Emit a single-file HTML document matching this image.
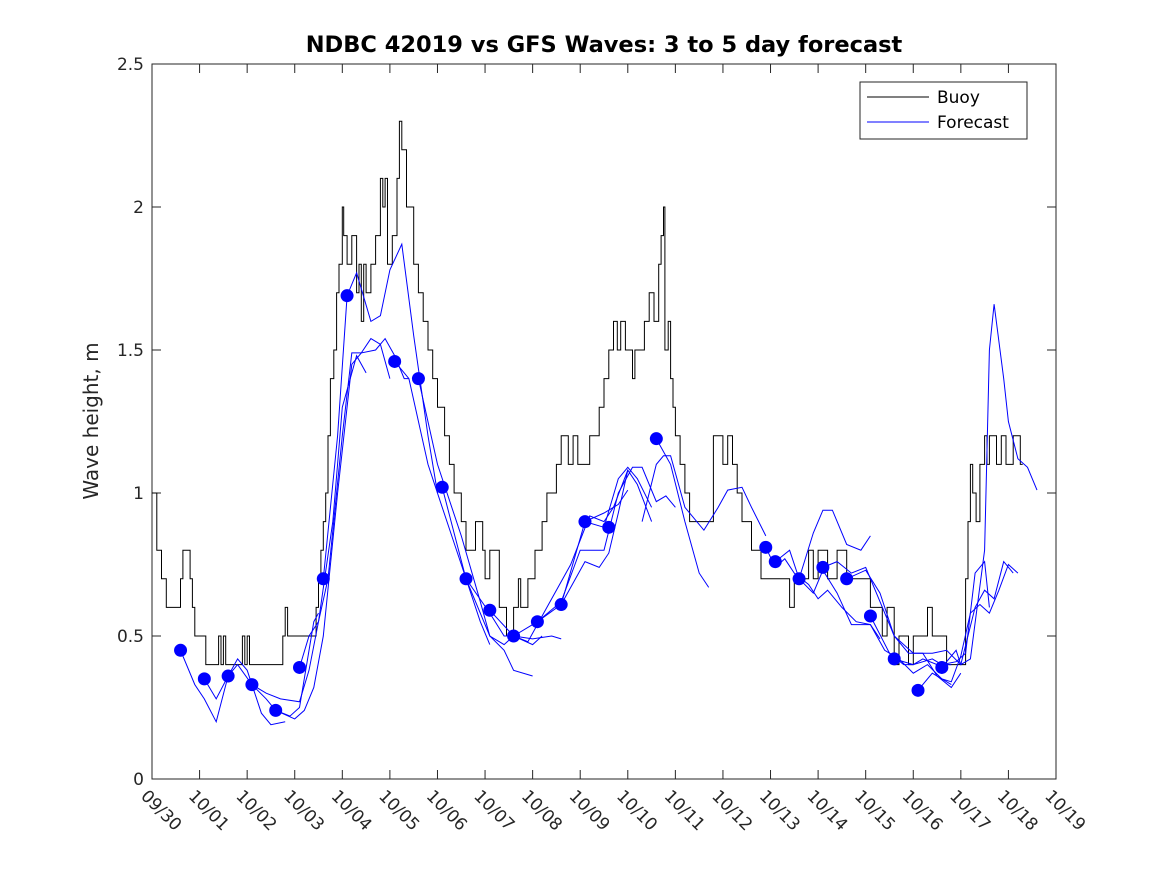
<!DOCTYPE html>
<html><head><meta charset="utf-8"><style>
body{margin:0;background:#fff;}
svg{display:block;font-family:"DejaVu Sans","Liberation Sans",sans-serif;}
</style></head><body>
<svg id="chart" width="1167" height="875">
<rect width="1167" height="875" fill="#fff"/>
</svg>
<script>
const xTicks=["09/30","10/01","10/02","10/03","10/04","10/05","10/06","10/07","10/08","10/09","10/10","10/11","10/12","10/13","10/14","10/15","10/16","10/17","10/18","10/19"];
const yTicks=[0,0.5,1,1.5,2,2.5];
const buoyDays=[0,0.1,0.2,0.3,0.6,0.65,0.7,0.8,0.85,0.9,1.13,1.4,1.45,1.5,1.55,1.9,1.95,2.0,2.05,2.75,2.8,2.85,2.9,3.45,3.5,3.55,3.6,3.65,3.7,3.75,3.82,3.88,3.93,4.0,4.03,4.1,4.2,4.3,4.35,4.4,4.45,4.5,4.6,4.7,4.8,4.85,4.9,4.95,5.05,5.15,5.2,5.25,5.35,5.5,5.6,5.7,5.8,5.9,6.0,6.15,6.25,6.35,6.5,6.6,6.8,6.95,7.0,7.1,7.3,7.45,7.6,7.7,7.75,7.9,8.05,8.2,8.3,8.5,8.6,8.75,8.85,8.95,9.2,9.4,9.5,9.6,9.7,9.78,9.85,9.95,10.1,10.15,10.35,10.45,10.55,10.65,10.7,10.75,10.78,10.85,10.9,10.95,11.0,11.1,11.2,11.3,11.4,11.8,12.0,12.1,12.2,12.3,12.4,12.6,12.8,13.1,13.4,13.5,13.8,13.9,14.0,14.2,14.4,14.6,14.9,15.1,15.35,15.45,15.6,15.7,15.9,16.0,16.3,16.4,16.7,17.1,17.15,17.2,17.25,17.32,17.4,17.5,17.55,17.6,17.75,17.85,17.95,18.1,18.25];
const buoyVals=[1.0,0.8,0.7,0.6,0.7,0.8,0.8,0.7,0.6,0.5,0.4,0.5,0.4,0.5,0.4,0.5,0.4,0.5,0.4,0.5,0.6,0.5,0.5,0.6,0.7,0.8,0.9,1.0,1.2,1.4,1.5,1.7,1.8,2.0,1.9,1.8,1.9,1.7,1.8,1.6,1.8,1.7,1.8,1.9,2.1,2.0,2.1,1.8,1.9,2.1,2.3,2.2,2.0,1.8,1.7,1.6,1.5,1.4,1.3,1.2,1.1,1.0,0.9,0.8,0.9,0.8,0.7,0.8,0.6,0.5,0.6,0.7,0.6,0.7,0.8,0.9,1.0,1.1,1.2,1.1,1.2,1.1,1.2,1.3,1.4,1.5,1.6,1.5,1.6,1.5,1.4,1.5,1.6,1.7,1.6,1.8,1.9,2.0,1.5,1.6,1.4,1.3,1.2,1.1,1.0,0.9,0.9,1.2,1.1,1.2,1.1,1.0,0.9,0.8,0.7,0.7,0.6,0.7,0.8,0.7,0.8,0.7,0.8,0.7,0.7,0.6,0.5,0.6,0.4,0.5,0.4,0.5,0.6,0.5,0.4,0.7,0.9,1.1,1.0,0.9,1.1,1.2,1.1,1.2,1.1,1.2,1.1,1.2,1.1];
const fcDays=[
[0.6,0.9,1.1,1.35,1.6,1.8,2.0,2.3,2.5,2.8],
[1.1,1.35,1.6,1.8,2.1,2.4,2.6,2.9,3.1,3.4,3.5],
[2.1,2.4,2.7,3.1,3.3,3.5,3.7,4.0,4.2,4.4,4.6,4.8,5.0],
[2.6,3.0,3.2,3.4,3.6,3.9,4.2,4.4,4.7,4.9,5.1,5.3,5.4],
[3.1,3.3,3.5,3.8,4.0,4.3,4.5],
[3.6,3.9,4.1,4.3,4.6,4.8,5.0,5.25,5.5,5.8,6.0],
[5.1,5.4,5.8,6.1,6.5,6.9,7.1],
[5.6,6.0,6.5,6.9,7.1,7.4,7.6,8.0,8.2],
[6.1,6.6,7.1,7.4,7.6,8.0,8.4,8.6],
[6.6,7.1,7.4,7.6,8.0],
[7.1,7.6,7.9,8.3,8.8,9.2,9.5,9.7,10.0],
[7.6,8.1,8.6,9.0,9.5,9.8,10.1,10.3,10.6,10.8,11.0],
[8.1,8.6,8.9,9.1,9.4,9.6,9.8,10.0,10.2,10.5],
[8.6,9.1,9.5,9.8,10.0],
[9.1,9.5,9.8,10.0,10.2,10.5],
[10.6,10.9,11.2,11.5,11.7],
[10.3,10.6,10.75,10.9,11.2,11.6,11.9,12.1,12.4,12.6,12.9],
[12.9,13.1,13.3,13.5,13.8,14.0,14.2,14.5,14.8,15.1,15.3],
[13.1,13.4,13.6,13.9,14.1,14.3,14.6,14.9,15.1],
[13.6,13.9,14.1,14.4,14.7,15.1,15.4,15.7,16.0,16.3,16.6,16.8],
[14.1,14.4,14.7,15.0,15.3,15.6,15.9,16.2,16.5,16.8,17.0],
[14.6,15.0,15.3,15.6,16.0,16.4,16.7,17.0,17.3,17.5,17.7,17.9,18.1],
[15.1,15.5,15.8,16.0,16.2,16.5,16.8],
[15.6,16.0,16.4,16.6,16.9,17.1,17.3,17.5,17.6],
[16.1,16.4,16.6,16.8,17.0,17.2,17.4,17.6,17.8,18.0,18.2],
[16.6,16.9,17.0,17.2,17.5,17.6,17.7,17.9,18.0,18.2,18.4,18.6]];
const fcVals=[
[0.45,0.33,0.28,0.2,0.36,0.42,0.38,0.23,0.19,0.2],
[0.35,0.28,0.36,0.4,0.33,0.28,0.24,0.22,0.25,0.55,0.58],
[0.33,0.3,0.28,0.27,0.38,0.55,0.7,1.2,1.49,1.49,1.54,1.52,1.4],
[0.24,0.21,0.24,0.32,0.5,1.0,1.45,1.49,1.5,1.54,1.48,1.4,1.4],
[0.39,0.5,0.55,0.9,1.3,1.48,1.42],
[0.7,1.2,1.69,1.77,1.6,1.62,1.78,1.87,1.55,1.2,1.0],
[1.46,1.4,1.1,0.95,0.75,0.55,0.47],
[1.4,1.1,0.85,0.62,0.5,0.47,0.5,0.47,0.5],
[1.02,0.7,0.58,0.5,0.5,0.49,0.5,0.49],
[0.7,0.5,0.45,0.38,0.36],
[0.59,0.5,0.48,0.6,0.75,0.92,0.9,0.95,1.08],
[0.5,0.55,0.62,0.8,0.8,1.0,1.09,1.09,0.97,0.99,0.95],
[0.55,0.61,0.7,0.76,0.74,0.79,0.93,1.08,1.03,0.9],
[0.61,0.9,0.93,0.96,1.01],
[0.9,0.88,1.05,1.09,1.05,0.95],
[1.19,1.1,0.9,0.72,0.67],
[0.9,1.1,1.13,1.13,0.95,0.87,0.95,1.01,1.02,0.95,0.85],
[0.81,0.74,0.77,0.72,0.68,0.63,0.66,0.6,0.55,0.54,0.49],
[0.76,0.8,0.7,0.86,0.94,0.94,0.82,0.8,0.85],
[0.7,0.65,0.73,0.65,0.54,0.54,0.45,0.42,0.37,0.4,0.35,0.33],
[0.74,0.76,0.72,0.74,0.62,0.5,0.44,0.44,0.36,0.32,0.37],
[0.7,0.73,0.65,0.5,0.44,0.44,0.45,0.4,0.6,0.66,0.63,0.76,0.72],
[0.57,0.44,0.4,0.4,0.42,0.4,0.4],
[0.42,0.4,0.42,0.4,0.41,0.44,0.72,0.76,0.6],
[0.31,0.37,0.35,0.34,0.43,0.58,0.61,0.58,0.66,0.75,0.72],
[0.39,0.45,0.4,0.42,0.8,1.5,1.66,1.4,1.25,1.12,1.09,1.01]];
const markerDays=[0.6,1.1,1.6,2.1,2.6,3.1,3.6,4.1,5.1,5.6,6.1,6.6,7.1,7.6,8.1,8.6,9.1,9.6,10.6,12.9,13.1,13.6,14.1,14.6,15.1,15.6,16.1,16.6];
const markerVals=[0.45,0.35,0.36,0.33,0.24,0.39,0.7,1.69,1.46,1.4,1.02,0.7,0.59,0.5,0.55,0.61,0.9,0.88,1.19,0.81,0.76,0.7,0.74,0.7,0.57,0.42,0.31,0.39];

const L=152,R=1056,T=64,B=779;
const xs=d=>L+(R-L)*d/19;
const ys=v=>B-(B-T)*v/2.5;
const svg=document.getElementById('chart');
const NS='http://www.w3.org/2000/svg';
function mk(tag,attrs,parent){const e=document.createElementNS(NS,tag);for(const k in attrs)e.setAttribute(k,attrs[k]);(parent||svg).appendChild(e);return e;}

const frame=mk('rect',{x:L,y:T,width:R-L,height:B-T,fill:'#fff',stroke:'#262626','stroke-width':1});



xTicks.forEach((t,i)=>{
  const x=xs(i);
  const tk=mk('path',{d:`M${x} ${B}v-9M${x} ${T}v9`,stroke:'#262626','stroke-width':1});
  
  
  const tx=mk('text',{x:x-12,y:B+18,'font-size':17,fill:'#262626',transform:`rotate(45 ${x-12} ${B+18})`});
  tx.textContent=t;
  
  
});
yTicks.forEach(v=>{
  const y=ys(v);
  const tk=mk('path',{d:`M${L} ${y}h9M${R} ${y}h-9`,stroke:'#262626','stroke-width':1});
  
  
  const tx=mk('text',{x:L-8,y:y+6,'font-size':17,fill:'#262626','text-anchor':'end'});
  tx.textContent=String(v);
  
  
});

let d='';
buoyDays.forEach((dd,i)=>{
  const x=xs(dd).toFixed(1),y=ys(buoyVals[i]).toFixed(1);
  if(i===0)d+=`M${x} ${y}`;else d+=`H${x}V${y}`;
});
d+=`H${xs(18.3).toFixed(1)}`;
const buoy=mk('path',{d:d,fill:'none',stroke:'#000','stroke-width':1});



fcDays.forEach((arr,j)=>{
  const pts=arr.map((dd,i)=>xs(dd).toFixed(1)+','+ys(fcVals[j][i]).toFixed(1)).join(' ');
  const pl=mk('polyline',{points:pts,fill:'none',stroke:'#0000ff','stroke-width':1});
  
  
});
markerDays.forEach((dd,i)=>{
  const c=mk('circle',{cx:xs(dd),cy:ys(markerVals[i]),r:6.5,fill:'#0000ff'});
  
  
});

const title=mk('text',{x:604,y:52,'font-size':22.5,'font-weight':'bold','text-anchor':'middle',fill:'#000'});
title.textContent='NDBC 42019 vs GFS Waves: 3 to 5 day forecast';



const yl=mk('text',{x:98,y:421,'font-size':20,'text-anchor':'middle',fill:'#262626',transform:'rotate(-90 98 421)'});
yl.textContent='Wave height, m';



const lg=mk('g',{});


mk('rect',{x:860,y:82,width:167,height:57,fill:'#fff',stroke:'#262626','stroke-width':1},lg);
const l1=mk('line',{x1:867,y1:97,x2:929,y2:97,stroke:'#000','stroke-width':1},lg);


const t1=mk('text',{x:937,y:103,'font-size':17,fill:'#000'},lg);
t1.textContent='Buoy';


const l2=mk('line',{x1:867,y1:122,x2:929,y2:122,stroke:'#0000ff','stroke-width':1},lg);


const t2=mk('text',{x:937,y:128,'font-size':17,fill:'#000'},lg);
t2.textContent='Forecast';


</script>
</body></html>
